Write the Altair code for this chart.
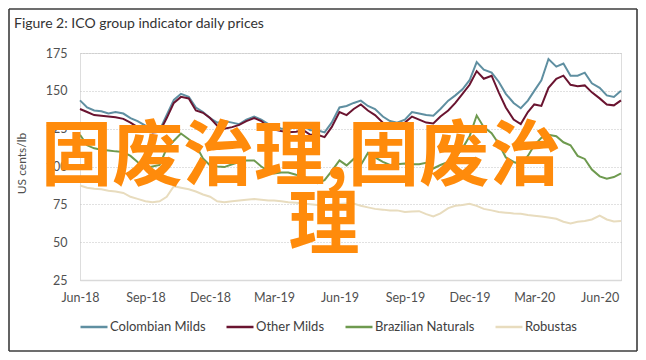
import altair as alt
import pandas as pd

# --- data (values every ~10 days, US cents/lb) ---
series_names = ["Colombian Milds", "Other Milds", "Brazilian Naturals", "Robustas"]
series_colors = ["#5F8FA1", "#6A1430", "#6E9A4F", "#E8DCBE"]

months = ["2018-06", "2018-07", "2018-08", "2018-09", "2018-10", "2018-11", "2018-12",
          "2019-01", "2019-02", "2019-03", "2019-04", "2019-05", "2019-06", "2019-07",
          "2019-08", "2019-09", "2019-10", "2019-11", "2019-12", "2020-01", "2020-02",
          "2020-03", "2020-04", "2020-05", "2020-06"]
days = ["01", "11", "21"]
dates = [f"{m}-{d}" for m in months for d in days] + ["2020-07-01"]

colombian = [143.7, 139, 137, 136.5, 135, 136, 135, 132, 130, 127, 123, 124,
             134, 144, 148, 146, 139, 136, 132, 129, 130, 129, 128, 131,
             133, 131, 128, 127, 125, 125, 126, 127, 124, 124, 122.5, 129,
             139, 140, 142, 143.5, 140, 138, 133, 130, 129, 131, 136, 135,
             134, 133.5, 138, 143.5, 147, 151, 157, 169, 164, 162, 156, 148,
             142, 138.5, 143.5, 150, 157, 171, 166, 168, 160, 160, 162, 155,
             152, 147, 146, 150]
other_milds = [138, 136, 134, 133.5, 133, 132.5, 131.5, 129, 126, 124, 122.5, 123,
               132, 142, 146, 145, 137, 135.5, 132, 127, 125, 126, 127.5, 130,
               132, 130, 126, 124.5, 123.5, 122.7, 123, 124, 121, 121, 119.4, 126,
               136, 134, 138, 141, 137, 134, 129, 128, 127, 129, 133, 131,
               129, 128.5, 133, 137, 142, 148, 154, 163, 158, 160, 149, 139,
               131, 128, 136, 141, 140, 152, 158, 160, 154, 153, 153.6, 149,
               145, 141, 140.4, 143.7]
brazilian = [121, 114, 112, 111, 110.6, 110, 109.5, 107, 103, 99, 100, 101,
             112, 117, 121.8, 118, 114, 105.3, 100.7, 100, 99.6, 101.5, 103, 104,
             104, 100, 97, 95.4, 96, 96, 94.5, 93.5, 91.5, 89, 91, 97,
             104, 100.7, 105, 101, 109, 106, 103, 101, 101.5, 102, 101.5, 101.5,
             102.5, 98.7, 101, 103, 106, 112, 120, 133.7, 126, 122, 115, 106,
             103, 101.5, 107, 114, 119, 121, 120, 116, 114, 107, 105, 98,
             93.5, 92, 93, 95.4]
robustas = [87.4, 86, 85.3, 85, 84, 83.5, 82.5, 80, 78.6, 77, 76.4, 77,
            80, 87, 86, 85, 83.5, 81.5, 80, 77, 76.4, 77, 77.5, 78,
            78.6, 78, 77.5, 77.5, 77, 76.4, 76, 75.5, 75, 74.5, 74.2, 75,
            75.3, 75.5, 75.5, 74, 73, 72, 71.5, 70.9, 71, 70, 70.3, 70.5,
            68.5, 67, 69, 72.5, 74, 74.5, 75.3, 74, 72, 71, 70, 69.5,
            69, 68.7, 68, 67.5, 67, 66.3, 65.5, 63.5, 62.3, 63.5, 64, 65,
            67.5, 65, 63.7, 64]

y_ticks = [25, 50, 75, 100, 125, 150, 175]
x_ticks = ["2018-06-01", "2018-09-01", "2018-12-01", "2019-03-01", "2019-06-01",
           "2019-09-01", "2019-12-01", "2020-03-01", "2020-06-01"]
title_text = "Figure 2: ICO group indicator daily prices"
overlay_line1 = "固废治理,固废治"
overlay_line2 = "理"

rows = []
for name, vals in zip(series_names, [colombian, other_milds, brazilian, robustas]):
    for d, v in zip(dates, vals):
        rows.append({"date": d, "series": name, "value": v})
df = pd.DataFrame(rows)

FONT = "Lato"

lines = alt.Chart(df).mark_line(strokeWidth=2).encode(
    x=alt.X("date:T",
            scale=alt.Scale(domain=["2018-06-01", "2020-07-01"]),
            axis=alt.Axis(values=x_ticks, format="%b-%y", title=None, grid=False,
                          ticks=False, domain=True, domainColor="#d9d9d9", domainWidth=1.5,
                          labelFlush=False,
                          labelFont=FONT, labelFontSize=12.5, labelColor="#505050",
                          labelPadding=11)),
    y=alt.Y("value:Q",
            scale=alt.Scale(domain=[25, 175], nice=False, zero=False),
            axis=alt.Axis(values=y_ticks, title="US cents/lb", grid=True,
                          gridDash=[1, 2], gridColor="#c4c4c4", gridWidth=1.2,
                          ticks=False, domain=False,
                          labelFont=FONT, labelFontSize=12.5, labelColor="#505050",
                          labelPadding=13,
                          titleFont=FONT, titleFontSize=12, titleFontWeight="normal",
                          titleColor="#505050", titleX=-52, titleY=110)),
    color=alt.Color("series:N",
                    scale=alt.Scale(domain=series_names, range=series_colors),
                    sort=series_names,
                    legend=alt.Legend(title=None, orient="none", direction="horizontal",
                                      legendX=-1, legendY=259,
                                      symbolType="stroke", symbolSize=729,
                                      symbolStrokeWidth=2.5, labelOffset=1,
                                      columnPadding=15,
                                      labelFont=FONT, labelFontSize=13,
                                      labelColor="#404040")),
    order=alt.Order("series:N")
)

overlay_df = pd.DataFrame({"t1": [overlay_line1], "t2": [overlay_line2], "title": [title_text]})
text1 = alt.Chart(overlay_df).mark_text(
    font="Noto Sans CJK SC", fontWeight="bold", fontSize=71, color="#FF8B0B",
    align="center", baseline="middle"
).encode(text="t1:N", x=alt.value(221), y=alt.value(105))
text2 = alt.Chart(overlay_df).mark_text(
    font="Noto Sans CJK SC", fontWeight="bold", fontSize=71, color="#FF8B0B",
    align="center", baseline="middle"
).encode(text="t2:N", x=alt.value(244), y=alt.value(174))

title = alt.Chart(overlay_df).mark_text(
    font=FONT, fontSize=14, color="#333333", align="left", baseline="middle"
).encode(text="title:N", x=alt.value(-66), y=alt.value(-29))

# picture frame (decoration around the whole figure, kept inside the svg)
FR = dict(stroke="#3c3c3c", strokeWidth=1.6)
L, R, T, B = -71, 557, -44, 298
f_top = alt.Chart(overlay_df).mark_rule(**FR).encode(
    x=alt.value(L), x2=alt.value(R), y=alt.value(T), y2=alt.value(T))
f_bot = alt.Chart(overlay_df).mark_rule(**FR).encode(
    x=alt.value(L), x2=alt.value(R), y=alt.value(B), y2=alt.value(B))
f_left = alt.Chart(overlay_df).mark_rule(**FR).encode(
    x=alt.value(L), x2=alt.value(L), y=alt.value(T), y2=alt.value(B))
f_right = alt.Chart(overlay_df).mark_rule(**FR).encode(
    x=alt.value(R), x2=alt.value(R), y=alt.value(T), y2=alt.value(B))

chart = alt.layer(f_top, f_bot, f_left, f_right, lines, text1, text2, title).properties(
    width=541, height=227,
    autosize=alt.AutoSizeParams(type="none"),
    padding={"left": 72, "top": 45, "right": 17, "bottom": 72}
).configure_view(stroke=None).configure(background="white")

chart.save("out.html", embed_options={"renderer": "svg", "actions": False})
